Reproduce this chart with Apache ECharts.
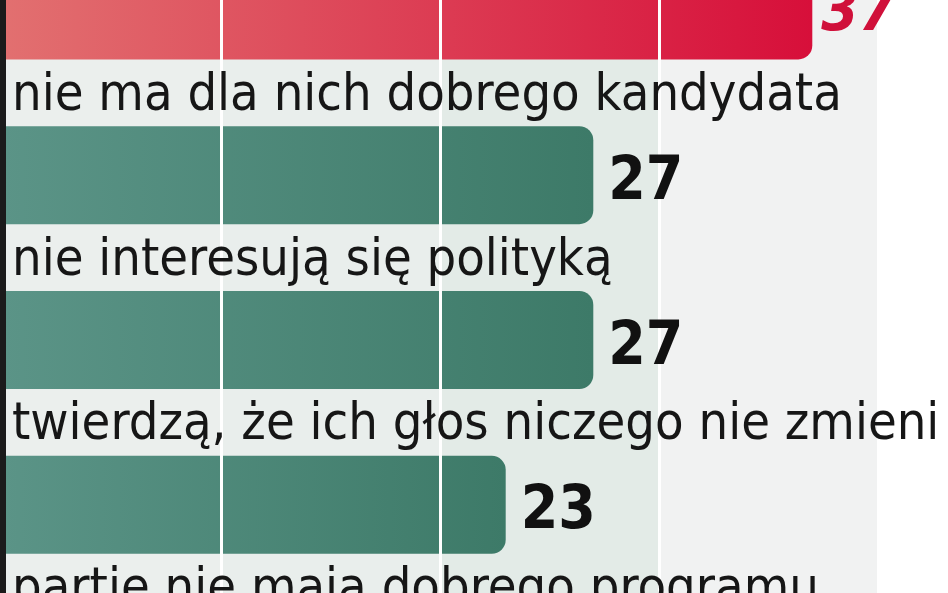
<!DOCTYPE html>
<html>
<head>
<meta charset="utf-8">
<script src="https://cdn.jsdelivr.net/npm/echarts@6/dist/echarts.min.js"></script>
<style>
  html, body { margin: 0; padding: 0; background: #fff; }
  #chart { width: 948px; height: 593px; }
</style>
</head>
<body>
<div id="chart"></div>
<script>
// powody niegłosowania (%) - wycinek grafiki
var categories = ['', 'nie ma dla nich dobrego kandydata', 'nie interesują się polityką',
  'twierdzą, że ich głos niczego nie zmieni', 'partie nie mają dobrego programu'];
var values = [37, 27, 27, 23, null];
var xTicks = [0, 10, 20, 30, 40];

var FONT = '"DejaVu Sans Condensed", "Liberation Sans Narrow", sans-serif';

var greenFill = new echarts.graphic.LinearGradient(0, 0, 1, 0, [
  { offset: 0, color: '#5b9487' },
  { offset: 1, color: '#3d7a68' }
]);
var redFill = new echarts.graphic.LinearGradient(0, 0, 1, 0, [
  { offset: 0, color: '#e27070' },
  { offset: 1, color: '#d70f3a' }
]);

var chart = echarts.init(document.getElementById('chart'));

chart.setOption({
  animation: false,
  backgroundColor: '#ffffff',
  grid: {
    left: 2,
    top: -72,
    height: 824,
    width: 876,
    containLabel: false,
    outerBoundsMode: 'none'
  },
  xAxis: [{
    // szare kolumny tla
    type: 'value',
    min: xTicks[0],
    max: xTicks[xTicks.length - 1],
    interval: 10,
    axisLine: { show: false },
    axisTick: { show: false },
    axisLabel: { show: false },
    splitLine: { show: false },
    splitArea: {
      show: true,
      areaStyle: { color: ['#ebefed', '#e9eeec', '#e3ebe7', '#f1f2f2'] }
    }
  }, {
    // biale linie siatki nad slupkami
    type: 'value',
    min: xTicks[0],
    max: xTicks[xTicks.length - 1],
    interval: 10,
    z: 5,
    axisLine: { show: false },
    axisTick: { show: false },
    axisLabel: { show: false },
    splitLine: { show: true, lineStyle: { color: '#ffffff', width: 3 } }
  }],
  yAxis: {
    type: 'category',
    inverse: true,
    data: categories,
    z: 6,
    axisTick: { show: false },
    axisLine: { show: true, lineStyle: { color: '#1b1b1b', width: 7 } },
    axisLabel: {
      inside: true,
      interval: 0,
      margin: 10,
      verticalAlign: 'middle',
      formatter: function (v) { return '{t|' + v + '}\n{s| }'; },
      rich: {
        t: { color: '#161616', fontFamily: FONT, fontSize: 52, lineHeight: 60 },
        s: { fontSize: 10, height: 158, lineHeight: 158 }
      }
    }
  },
  series: [{
    // slupki
    type: 'bar',
    xAxisIndex: 0,
    barWidth: 98,
    z: 2,
    data: values.map(function (v, i) {
      return { value: v, itemStyle: { color: i === 0 ? redFill : greenFill } };
    }),
    itemStyle: { borderRadius: [0, 14, 14, 0] }
  }, {
    // wartosci nad liniami siatki
    type: 'bar',
    xAxisIndex: 0,
    barWidth: 98,
    barGap: '-100%',
    z: 10,
    silent: true,
    itemStyle: { color: 'rgba(0,0,0,0)' },
    data: values.map(function (v, i) {
      var item = { value: v };
      if (i === 0) {
        item.label = { color: '#d0103a', fontStyle: 'italic', offset: [-6, 4] };
      }
      return item;
    }),
    label: {
      show: true,
      position: 'right',
      distance: 15,
      offset: [0, 8],
      color: '#111111',
      fontFamily: FONT,
      fontWeight: 'bold',
      fontSize: 60
    }
  }]
});
</script>
</body>
</html>
